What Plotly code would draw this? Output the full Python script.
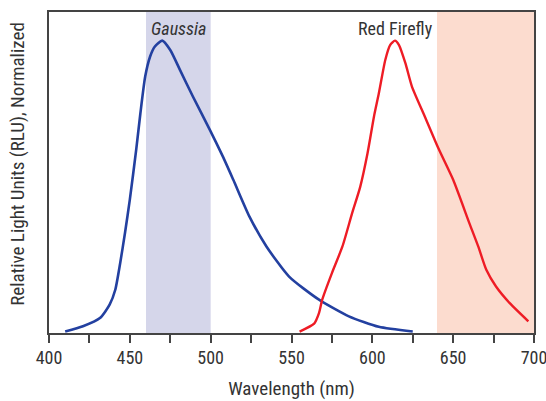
import plotly.graph_objects as go

# ---- data ----
gaussia_nm = [410, 421, 431.5, 437.5, 441, 444, 447, 450, 454, 456.5, 459.5, 462.5, 465.5, 470,
              475, 481, 489, 499.5, 507.5, 514, 524, 534.5, 548.5, 567, 585.5, 604, 625]
gaussia_rlu = [0.005, 0.023, 0.051, 0.097, 0.148, 0.238, 0.342, 0.456, 0.63, 0.75, 0.877, 0.945, 0.98, 1.0,
               0.968, 0.9, 0.809, 0.695, 0.604, 0.524, 0.398, 0.296, 0.193, 0.114, 0.057, 0.021, 0.005]

firefly_nm = [555, 564, 567, 569, 575, 581.5, 587.5, 592.5, 597, 601, 604, 608, 611, 614,
              616.5, 620.5, 624.5, 632.5, 641, 650, 660, 665.5, 670.5, 676.5, 685, 696.5]
firefly_rlu = [0.005, 0.032, 0.068, 0.114, 0.205, 0.296, 0.41, 0.5, 0.614, 0.74, 0.819, 0.934, 0.985, 1.0,
               0.985, 0.922, 0.843, 0.74, 0.63, 0.524, 0.376, 0.296, 0.216, 0.159, 0.102, 0.04]

gaussia_band = [460, 500]
firefly_band = [640, 700]
x_ticks = [400, 450, 500, 550, 600, 650, 700]

FONT = "Liberation Sans Narrow, Roboto Condensed, Arial Narrow, Liberation Sans, sans-serif"
TXT = "#333333"

fig = go.Figure()

fig.add_trace(go.Scatter(x=gaussia_nm, y=gaussia_rlu, mode="lines",
                         line=dict(color="#2340a0", width=2.6, shape="spline", smoothing=0.6),
                         name="Gaussia", showlegend=False, hoverinfo="skip", cliponaxis=False))
fig.add_trace(go.Scatter(x=firefly_nm, y=firefly_rlu, mode="lines",
                         line=dict(color="#ee1c25", width=2.4, shape="spline", smoothing=0.6),
                         name="Red Firefly", showlegend=False, hoverinfo="skip", cliponaxis=False))

fig.add_shape(type="rect", xref="x", yref="paper", x0=gaussia_band[0], x1=gaussia_band[1],
              y0=0, y1=1, fillcolor="#d5d6ea", line_width=0, layer="below")
fig.add_shape(type="rect", xref="x", yref="paper", x0=firefly_band[0], x1=firefly_band[1],
              y0=0, y1=1, fillcolor="#fcdccf", line_width=0, layer="below")

fig.add_annotation(x=480, y=1.0, yref="paper", yshift=-4, text="<i>Gaussia</i>", showarrow=False,
                   yanchor="top", font=dict(family=FONT, size=18, color=TXT))
fig.add_annotation(x=614.5, y=1.0, yref="paper", yshift=-4, text="Red Firefly", showarrow=False,
                   yanchor="top", font=dict(family=FONT, size=18, color=TXT))

# y-axis title placed as rotated annotation (no tick labels on the y axis)
fig.add_annotation(x=0, xref="paper", xshift=-31, y=0.527, yref="paper",
                   text="Relative Light Units (RLU), Normalized", textangle=-90, showarrow=False,
                   xanchor="center", yanchor="middle", font=dict(family=FONT, size=19, color=TXT))

fig.update_layout(
    width=546, height=401,
    margin=dict(l=49, r=12, t=12, b=68),
    paper_bgcolor="white", plot_bgcolor="white",
    font=dict(family=FONT, size=16, color=TXT),
    showlegend=False,
)
fig.update_xaxes(range=[400, 700], tickvals=x_ticks, ticks="outside", ticklen=8, tickwidth=1.5,
                 tickcolor="#444444", showline=True, linecolor="#444444", linewidth=1.5, mirror=True,
                 showgrid=False, zeroline=False, automargin=False, ticklabeloverflow="allow",
                 minor=dict(dtick=25, tick0=400, ticks="outside", ticklen=8, tickwidth=1.5, tickcolor="#444444"),
                 tickfont=dict(family=FONT, size=18, color=TXT),
                 title=dict(text="Wavelength (nm)", font=dict(family=FONT, size=19, color=TXT), standoff=14))
fig.update_yaxes(range=[0, 1.098], showline=True, linecolor="#444444", linewidth=1.5, mirror=True,
                 showgrid=False, zeroline=False, showticklabels=False, ticks="", automargin=False)

fig.write_html("out.html", config={"displayModeBar": False},
               post_script="document.body.style.margin='0';document.body.style.padding='0';")
